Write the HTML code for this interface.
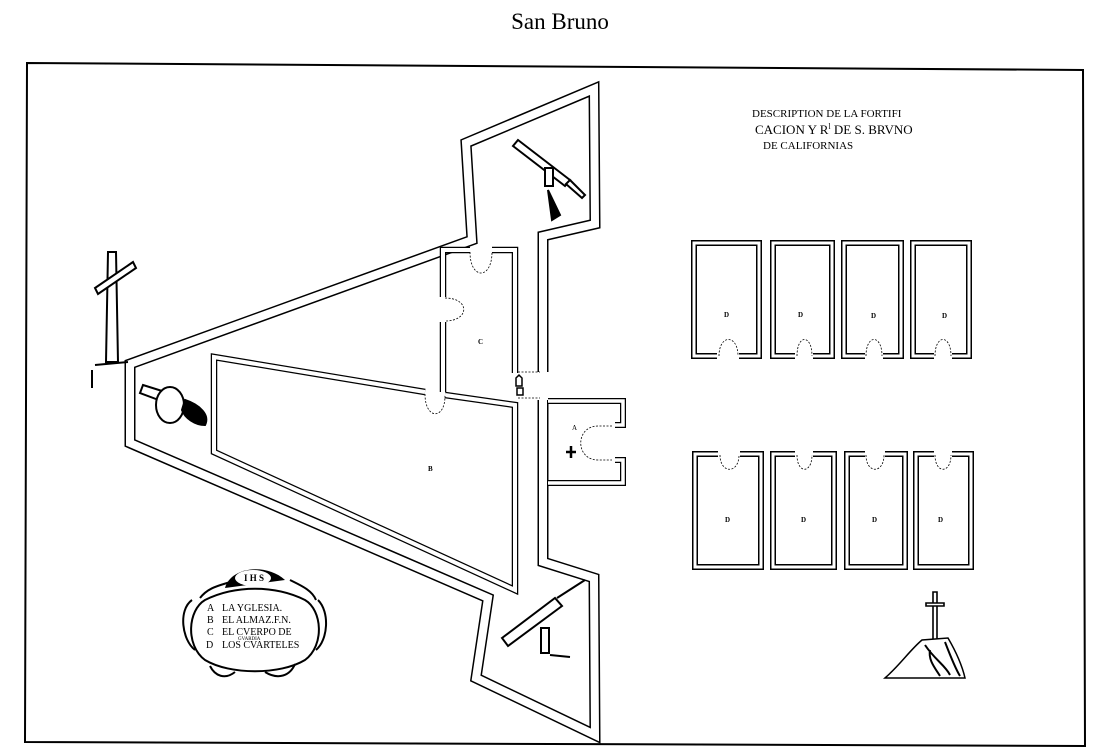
<!DOCTYPE html>
<html><head><meta charset="utf-8"><style>
html,body{margin:0;padding:0;background:#fff;}
svg{display:block;}
text{font-family:"Liberation Serif",serif;fill:#000;}
</style></head><body>
<svg width="1099" height="756" viewBox="0 0 1099 756" xmlns="http://www.w3.org/2000/svg">
<rect width="1099" height="756" fill="#fff"/>
<text x="560" y="29" font-size="23" text-anchor="middle">San Bruno</text>
<polygon points="27,63 1083,70 1085,746 25,742" fill="none" stroke="#000" stroke-width="2"/>

<g fill="none" stroke-linejoin="miter" stroke-miterlimit="10">
<path d="M543,400 L543,562 L594,578 L595,735 L476,678 L488,598 L130,443 L130,364 L472,240 L466,143 L594,89 L595,224 L543,236 L543,372" stroke="#000" stroke-width="11"/>
<path d="M543,400 L543,562 L594,578 L595,735 L476,678 L488,598 L130,443 L130,364 L472,240 L466,143 L594,89 L595,224 L543,236 L543,372" stroke="#fff" stroke-width="8"/>
<path d="M425,392 L214,357 L214,452 L515,590 L515,405 L445,395" stroke="#000" stroke-width="6.5"/>
<path d="M425,392 L214,357 L214,452 L515,590 L515,405 L445,395" stroke="#fff" stroke-width="4"/>
<path d="M443,297 L443,250 L470,250 M492,250 L515,250 L515,373 M443,322 L443,392" stroke="#000" stroke-width="6.5"/>
<path d="M443,297 L443,250 L470,250 M492,250 L515,250 L515,373 M443,322 L443,392" stroke="#fff" stroke-width="4"/>
<path d="M548,401 L623,401 L623,425 L615,425 M615,460 L623,460 L623,483 L548,483" stroke="#000" stroke-width="6"/>
<path d="M548,401 L623,401 L623,425 L615,425 M615,460 L623,460 L623,483 L548,483" stroke="#fff" stroke-width="3.5"/>
</g>
<g fill="none" stroke="#000" stroke-width="0.8" stroke-dasharray="2,1.5">
<path d="M470,252 C470,280 492,280 492,252"/>
<path d="M445,298 C470,298 470,321 445,321"/>
<path d="M425,394 C425,420 445,420 445,396"/>
<path d="M612,426 L598,426 C575,426 575,460 598,460 L612,460"/>
<path d="M518,372 L540,372 M518,398 L540,398"/>
</g>
<path d="M516,378 l3,-3 l3,3 l0,8 l-6,0z M517,388 l6,0 l0,7 l-6,0z" fill="none" stroke="#000" stroke-width="1.5"/>
<path d="M566,452 l10,0 M571,446 l0,12" stroke="#000" stroke-width="2.5"/>
<text x="572" y="430" font-size="7">A</text>
<text x="428" y="471" font-size="7" font-weight="bold">B</text>
<text x="478" y="344" font-size="7" font-weight="bold">C</text>

<g fill="none">
<path d="M717,356 L694,356 L694,243 L759,243 L759,356 L739,356 M795,356 L773,356 L773,243 L832,243 L832,356 L813,356 M865,356 L844,356 L844,243 L901,243 L901,356 L883,356 M934,356 L913,356 L913,243 L969,243 L969,356 L952,356" stroke="#000" stroke-width="6"/>
<path d="M717,356 L694,356 L694,243 L759,243 L759,356 L739,356 M795,356 L773,356 L773,243 L832,243 L832,356 L813,356 M865,356 L844,356 L844,243 L901,243 L901,356 L883,356 M934,356 L913,356 L913,243 L969,243 L969,356 L952,356" stroke="#fff" stroke-width="3"/>
<path d="M718,454 L695,454 L695,567 L761,567 L761,454 L740,454 M795,454 L773,454 L773,567 L834,567 L834,454 L813,454 M865,454 L847,454 L847,567 L905,567 L905,454 L885,454 M934,454 L916,454 L916,567 L971,567 L971,454 L952,454" stroke="#000" stroke-width="6"/>
<path d="M718,454 L695,454 L695,567 L761,567 L761,454 L740,454 M795,454 L773,454 L773,567 L834,567 L834,454 L813,454 M865,454 L847,454 L847,567 L905,567 L905,454 L885,454 M934,454 L916,454 L916,567 L971,567 L971,454 L952,454" stroke="#fff" stroke-width="3"/>
<g stroke="#000" stroke-width="0.8" stroke-dasharray="2,1.5">
<path d="M719,356 C719,334 738,334 738,356"/><path d="M797,356 C797,334 812,334 812,356"/><path d="M866,356 C866,334 882,334 882,356"/><path d="M935,356 C935,334 951,334 951,356"/>
<path d="M720,455 C720,474 739,474 739,455"/><path d="M797,455 C797,474 812,474 812,455"/><path d="M866,455 C866,474 884,474 884,455"/><path d="M935,455 C935,474 951,474 951,455"/>
</g>
</g>
<g font-size="7" font-weight="bold">
<text x="724" y="317">D</text><text x="798" y="317">D</text><text x="871" y="318">D</text><text x="942" y="318">D</text>
<text x="725" y="522">D</text><text x="801" y="522">D</text><text x="872" y="522">D</text><text x="938" y="522">D</text>
</g>

<text x="752" y="117" font-size="11">DESCRIPTION DE LA FORTIFI</text>
<text x="755" y="134" font-size="13">CACION  Y R<tspan font-size="8" dy="-5">l</tspan><tspan dy="5"> DE S. BRVNO</tspan></text>
<text x="763" y="149" font-size="11">DE CALIFORNIAS</text>

<g stroke="#000" stroke-width="2" fill="#fff">
<path d="M108,252 L116,252 L118,362 L106,362 Z"/>
<path d="M95,288 L133,262 L136,268 L98,294 Z"/>
</g>
<path d="M95,365 L128,362 M92,370 l0,18" stroke="#000" stroke-width="2"/>
<g stroke="#000" fill="#fff" stroke-width="2">
<path d="M143,385 L175,395 L172,405 L140,393 Z"/>
<ellipse cx="170" cy="405" rx="14" ry="18"/>
<path d="M185,400 C200,405 210,415 205,425 C195,425 185,418 182,410Z" fill="#000"/>
<path d="M518,140 L570,180 L565,186 L513,146Z"/>
<path d="M570,180 L585,195 L582,198 L566,184Z"/>
<rect x="545" y="168" width="8" height="18"/>
<path d="M502,638 L555,598 L562,606 L508,646Z"/>
<path d="M557,598 L585,580" fill="none"/>
<rect x="541" y="628" width="8" height="25"/>
</g>
<path d="M548,190 l12,25 l-8,5 z M550,655 l20,2" stroke="#000" stroke-width="2" fill="#000"/>

<g stroke="#000" stroke-width="1.6" fill="#fff">
<path d="M933,592 L937,592 L937,640 L933,640Z"/>
<path d="M926,603 L944,603 L944,606 L926,606Z"/>
</g>
<path d="M885,678 C900,665 910,650 922,640 L948,638 C955,650 962,665 965,678 Z" fill="#fff" stroke="#000" stroke-width="1.5"/>
<path d="M925,645 C935,660 945,665 950,675 M945,642 C950,655 955,668 960,676 M930,650 C928,660 935,668 940,676" stroke="#000" stroke-width="2" fill="none"/>

<g stroke="#000" fill="none" stroke-width="2">
<path d="M205,600 C235,585 275,585 305,600 C322,610 325,645 305,660 C280,675 230,675 205,660 C185,645 188,610 205,600Z"/>
<path d="M192,600 C178,610 182,640 195,650 M318,600 C330,612 328,640 316,650 M200,598 C210,585 225,585 235,580 M290,580 C300,585 312,590 316,600"/>
<path d="M210,666 C215,676 225,680 235,672 M265,672 C278,680 290,676 295,664"/>
</g>
<path d="M225,588 C230,568 265,562 285,580 Z" fill="#000"/>
<ellipse cx="253" cy="578" rx="18" ry="8" fill="#fff"/>
<text x="244" y="581" font-size="9" font-weight="bold">I H S</text>
<g font-size="10">
<text x="207" y="611">A</text><text x="222" y="611">LA YGLESIA.</text>
<text x="207" y="623">B</text><text x="222" y="623">EL ALMAZ.F.N.</text>
<text x="207" y="635">C</text><text x="222" y="635">EL CVERPO DE</text>
<text x="206" y="648">D</text><text x="222" y="648">LOS CVARTELES</text>
</g>
<text x="238" y="640" font-size="5">GVARDIA</text>
</svg>
</body></html>
